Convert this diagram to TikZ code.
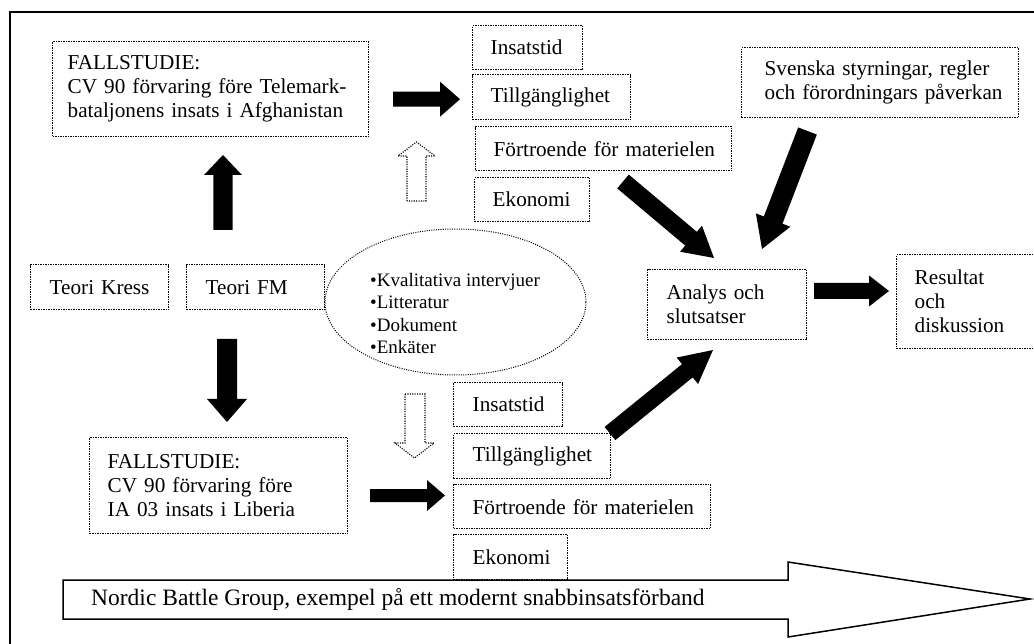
\documentclass[tikz,border=0pt]{standalone}
\usepackage{fontspec}
\setmainfont{Liberation Serif}
\usetikzlibrary{calc,shapes.geometric}
\tikzset{
  dbox/.style={draw, line width=1.4pt, dash pattern=on 1.4pt off 1.1pt, rectangle,
    anchor=north west, align=left, inner ysep=0pt, font=\fontsize{21.2}{24}\selectfont},
  hollow/.style={draw, line width=1.1pt, dash pattern=on 1.1pt off 1.3pt},
  frameline/.style={line width=1.8pt},
  bigarrow/.style={draw, line width=1.5pt, fill=white},
  methell/.style={ellipse, draw, line width=1pt, dash pattern=on 1pt off 1.3pt, inner sep=0pt}
}
\newcommand\dbox[8]{\node[dbox, minimum width=#4pt, minimum height=#5pt, inner xsep=#6pt, text width=#7pt] (#1) at (#2,#3) {#8};}
\newcommand\blkarrow[5]{%
  \coordinate (hb) at ($(#2)!#5pt!(#1)$);
  \fill ($(#1)!#3pt!90:(#2)$) -- ($(hb)!#3pt!90:(#2)$) -- ($(hb)!#4pt!90:(#2)$) -- (#2)
     -- ($(hb)!#4pt!-90:(#2)$) -- ($(hb)!#3pt!-90:(#2)$) -- ($(#1)!#3pt!-90:(#2)$) -- cycle;}
\begin{document}
\begin{tikzpicture}[x=1pt,y=-1pt]
\useasboundingbox (0,0) rectangle (1034,644);
\fill[white] (0,0) rectangle (1034,644);
\clip (0,0) rectangle (1034,644);
\draw[frameline] (10,650) -- (10,12) -- (1040,12);

% big hollow arrow
\draw[bigarrow] (63,580) -- (788,580) -- (788,562) -- (1030,599) -- (788,637) -- (788,619) -- (63,619) -- cycle;
\node[anchor=west, inner sep=0pt, font=\fontsize{23.5}{26}\selectfont] (nbg) at (91,599.5) {Nordic Battle Group, exempel på ett modernt snabbinsatsförband};

% boxes
\dbox{fa}{52}{41}{316}{95}{15}{286}{FALLSTUDIE:\\\mbox{CV 90 förvaring före Telemark-}\\\mbox{bataljonens insats i Afghanistan}}
\dbox{insA}{472}{25}{110}{44}{18}{74}{Insatstid}
\dbox{tilA}{472}{74}{158}{45}{18}{122}{Tillgänglighet}
\dbox{forA}{475}{126}{256}{44}{18}{220}{\mbox{Förtroende för materielen}}
\dbox{ekoA}{474}{177}{115}{44}{18}{79}{Ekonomi}
\dbox{sv}{741}{47}{277}{70}{23}{231}{\mbox{Svenska styrningar, regler}\\\mbox{och förordningars påverkan}}
\dbox{kress}{30}{264}{138}{45}{19}{100}{\mbox{Teori Kress}}
\dbox{fm}{186}{264}{138}{45}{19}{100}{\mbox{Teori FM}}
\dbox{fb}{89}{437}{258}{96}{18}{222}{FALLSTUDIE:\\\mbox{CV 90 förvaring före}\\\mbox{IA 03 insats i Liberia}}
\dbox{insB}{453}{382}{109}{44}{19}{71}{Insatstid}
\dbox{tilB}{453}{433}{157}{45}{19}{119}{Tillgänglighet}
\dbox{forB}{453}{484}{257}{44}{19}{219}{\mbox{Förtroende för materielen}}
\dbox{ekoB}{453}{534}{114}{45}{19}{76}{Ekonomi}
\dbox{ana}{647}{269}{159}{70}{19}{121}{\mbox{Analys och}\\slutsatser}
\dbox{res}{896}{254}{150}{94}{18}{114}{Resultat\\och\\diskussion}

% methods ellipse
\node[methell, minimum width=261pt, minimum height=146pt] (meth) at (455.5,302) {};
\node[anchor=north west, inner sep=0pt, align=left, font=\fontsize{19}{22.5}\selectfont] (methtxt) at (370,273)
  {\textbullet Kvalitativa intervjuer\\\textbullet Litteratur\\\textbullet Dokument\\\textbullet Enkäter};

% hollow dotted arrows
\draw[hollow] (407,201) -- (407,156) -- (398,156) -- (416.5,142) -- (435,156) -- (426,156) -- (426,201) -- cycle;
\draw[hollow] (405,394) -- (425,394) -- (425,443) -- (434,443) -- (414.5,458) -- (395,443) -- (405,443) -- cycle;

% black block arrows
\coordinate (u1) at (223,230); \coordinate (u2) at (223,155);
\blkarrow{u1}{u2}{9.7}{19}{20}
\coordinate (d1) at (227,339); \coordinate (d2) at (227,422);
\blkarrow{d1}{d2}{10}{20}{23}
\coordinate (r1) at (393,99.2); \coordinate (r2) at (460,99.2);
\blkarrow{r1}{r2}{7.5}{17.5}{20}
\coordinate (s1) at (370,495.5); \coordinate (s2) at (445,495.5);
\blkarrow{s1}{s2}{6.5}{15.5}{18}
\coordinate (p1) at (623,181.5); \coordinate (p2) at (714,258);
\blkarrow{p1}{p2}{9}{17}{30}
\coordinate (q1) at (807.5,131); \coordinate (q2) at (762,249);
\blkarrow{q1}{q2}{10}{18.5}{31}
\coordinate (t1) at (610,433.5); \coordinate (t2) at (713,350);
\blkarrow{t1}{t2}{8.5}{17}{33}
\coordinate (m1) at (814,291); \coordinate (m2) at (889,291);
\blkarrow{m1}{m2}{8}{15.5}{20}
\end{tikzpicture}
\end{document}
